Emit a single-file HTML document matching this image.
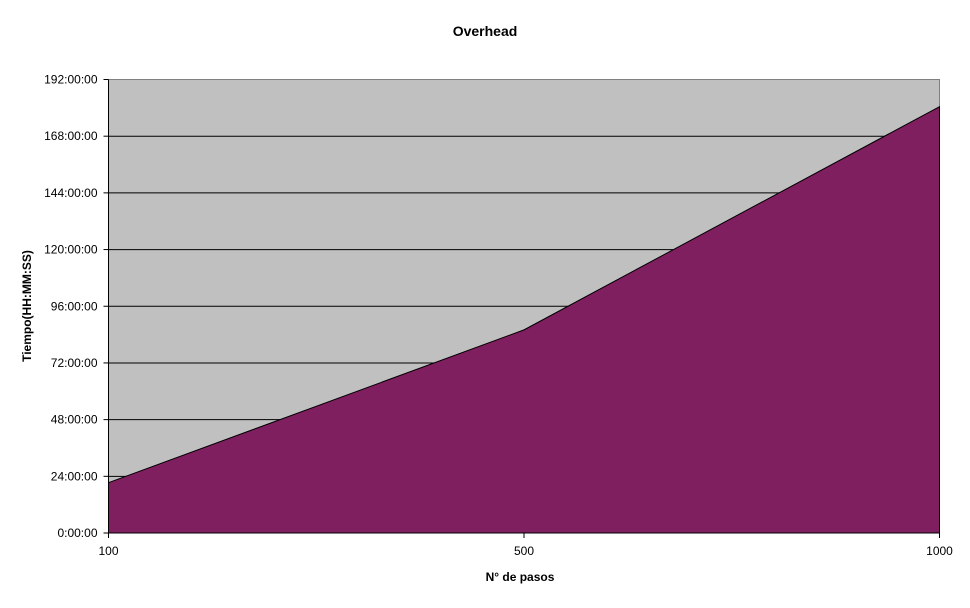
<!DOCTYPE html>
<html><head><meta charset="utf-8"><style>
body{margin:0;background:#fff;}
svg text{font-family:"Liberation Sans",Arial,sans-serif;}
</style></head><body>
<svg width="970" height="603">
<text x="485" y="36" text-anchor="middle" font-size="14" font-weight="bold">Overhead</text>
<rect x="108.5" y="79.5" width="831" height="453.5" fill="#c0c0c0" stroke="#808080"/>
<g id="grid"></g>
<path id="area" fill="#7f1f5f" stroke="#000" stroke-width="1"/>
<g id="axes"></g>
<text x="520" y="581" text-anchor="middle" font-size="12" font-weight="bold">N° de pasos</text>
<text transform="translate(31,306) rotate(-90)" text-anchor="middle" font-size="12" font-weight="bold">Tiempo(HH:MM:SS)</text>
</svg>
<script>
const categories=["100","500","1000"];
const hours=[21.3,86,180.5];
const yTicks=[0,24,48,72,96,120,144,168,192];
const L=108.5,R=939.5,T=79.5,B=533;
const x=i=>L+(R-L)*i/(categories.length-1);
const y=v=>B-(B-T)*v/192;
const ns="http://www.w3.org/2000/svg";
const grid=document.getElementById('grid'),axes=document.getElementById('axes');
function mk(tag,attrs,parent){const e=document.createElementNS(ns,tag);for(const k in attrs)e.setAttribute(k,attrs[k]);parent.appendChild(e);return e;}
yTicks.forEach(v=>{
 if(v>0&&v<192){const g=mk('line',{x1:L,x2:R,y1:y(v),y2:y(v),stroke:'#000'},grid);
 
 }
 const t=mk('line',{x1:L-5,x2:L,y1:y(v),y2:y(v),stroke:'#000'},axes);
 
 
 const lb=mk('text',{x:L-11,y:y(v)+4,'text-anchor':'end','font-size':'12'},axes);
 lb.textContent=v+':00:00';
 
 
});
let d='M'+x(0)+','+B;
hours.forEach((h,i)=>{d+=' L'+x(i)+','+y(h);});
d+=' L'+x(hours.length-1)+','+B+' Z';
document.getElementById('area').setAttribute('d',d);
mk('line',{x1:L,x2:L,y1:T,y2:B,stroke:'#000'},axes);
mk('line',{x1:L,x2:R,y1:B,y2:B,stroke:'#000'},axes);
categories.forEach((c,i)=>{
 const t=mk('line',{x1:x(i),x2:x(i),y1:B,y2:B+5,stroke:'#000'},axes);
 
 
 const lb=mk('text',{x:x(i),y:B+22,'text-anchor':'middle','font-size':'12'},axes);
 lb.textContent=c;
 
 
});
</script>
</body></html>
